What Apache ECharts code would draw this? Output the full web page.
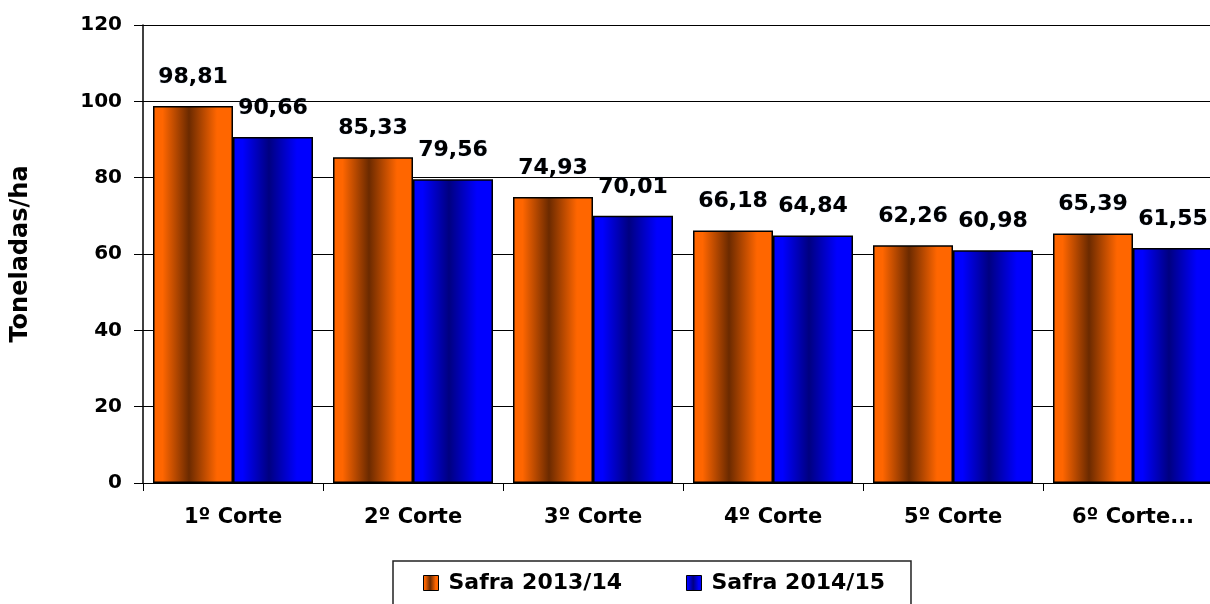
<!DOCTYPE html>
<html>
<head>
<meta charset="utf-8">
<script src="https://cdn.jsdelivr.net/npm/echarts@6/dist/echarts.min.js"></script>
<style>
  html, body { margin: 0; padding: 0; background: #fff; }
  #chart { width: 1210px; height: 604px; }
</style>
</head>
<body>
<div id="chart"></div>
<script>
    // dados
    var categories = ['1º Corte', '2º Corte', '3º Corte', '4º Corte', '5º Corte', '6º Corte...'];
    var safra1314 = [98.81, 85.33, 74.93, 66.18, 62.26, 65.39];
    var safra1415 = [90.66, 79.56, 70.01, 64.84, 60.98, 61.55];
    var seriesNames = ['Safra 2013/14', 'Safra 2014/15'];
    var yTicks = { min: 0, max: 120, interval: 20 };

    var fontFam = '"DejaVu Sans", Verdana, sans-serif';

    function gradient(edge, dark) {
        return new echarts.graphic.LinearGradient(0, 0, 1, 0, [
            { offset: 0, color: edge },
            { offset: 0.12, color: edge },
            { offset: 0.45, color: dark },
            { offset: 0.8, color: edge },
            { offset: 1, color: edge }
        ]);
    }

    function fmt(p) {
        return p.value.toFixed(2).replace('.', ',');
    }

    var labelStyle = {
        show: true,
        position: 'top',
        distance: 18,
        formatter: fmt,
        fontFamily: fontFam,
        fontWeight: 'bold',
        fontSize: 22,
        color: '#000',
        textShadowColor: 'rgba(40,90,170,0.45)',
        textShadowBlur: 1
    };

    var chart = echarts.init(document.getElementById('chart'));
    var option = {
        animation: false,
        textStyle: { fontFamily: fontFam },
        grid: {
            left: 143,
            top: 25,
            width: 1080,
            height: 458,
            outerBoundsMode: 'none'
        },
        legend: {
            data: seriesNames,
            icon: 'rect',
            left: 393,
            top: 561,
            padding: [11, 26, 30, 30],
            borderColor: '#222',
            borderWidth: 1.5,
            itemWidth: 15,
            itemHeight: 15,
            itemGap: 64,
            itemStyle: { borderColor: '#000', borderWidth: 1 },
            textStyle: {
                fontFamily: fontFam,
                fontWeight: 'bold',
                fontSize: 22,
                padding: [0, 0, 0, 5],
                color: '#000'
            }
        },
        xAxis: {
            type: 'category',
            data: categories,
            axisLine: { lineStyle: { color: '#000', width: 1 } },
            axisTick: { show: true, length: 8, lineStyle: { color: '#000' } },
            axisLabel: {
                margin: 24,
                fontFamily: fontFam,
                fontWeight: 'bold',
                fontSize: 21,
                color: '#000'
            },
            splitLine: { show: false }
        },
        yAxis: {
            type: 'value',
            min: yTicks.min,
            max: yTicks.max,
            interval: yTicks.interval,
            name: 'Toneladas/ha',
            nameLocation: 'middle',
            nameGap: 110,
            nameTextStyle: {
                fontFamily: fontFam,
                fontWeight: 'bold',
                fontSize: 24,
                color: '#000'
            },
            axisLine: { show: true, lineStyle: { color: '#000', width: 1.5 } },
            axisTick: { show: true, length: 9, lineStyle: { color: '#000' } },
            axisLabel: {
                margin: 21,
                fontFamily: fontFam,
                fontWeight: 'bold',
                fontSize: 20,
                color: '#000'
            },
            splitLine: { show: true, lineStyle: { color: '#000', width: 1 } }
        },
        series: [
            {
                name: seriesNames[0],
                type: 'bar',
                data: safra1314,
                barWidth: 80,
                barGap: '0%',
                itemStyle: {
                    color: gradient('#ff6600', '#6b2a00'),
                    borderColor: '#000',
                    borderWidth: 1.5
                },
                label: labelStyle
            },
            {
                name: seriesNames[1],
                type: 'bar',
                data: safra1415,
                barWidth: 80,
                barGap: '0%',
                itemStyle: {
                    color: gradient('#0000ff', '#000080'),
                    borderColor: '#000',
                    borderWidth: 1.5
                },
                label: labelStyle
            }
        ]
    };
    chart.setOption(option);
</script>
</body>
</html>
